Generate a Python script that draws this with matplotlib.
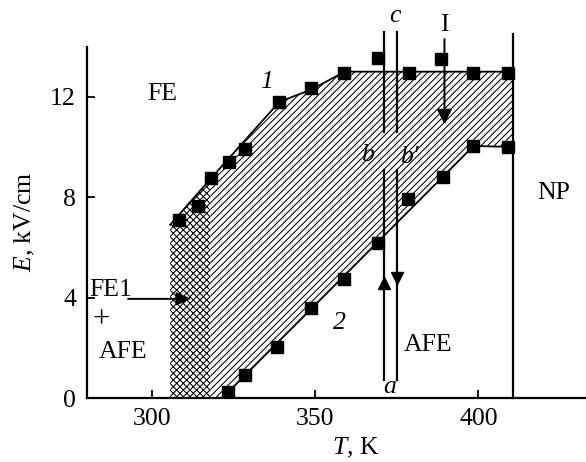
import matplotlib
matplotlib.use("Agg")
import matplotlib.pyplot as plt
from matplotlib.patches import Polygon

plt.rcParams['font.family'] = ['Liberation Serif', 'DejaVu Serif']
plt.rcParams['mathtext.fontset'] = 'custom'
plt.rcParams['mathtext.rm'] = 'Liberation Serif'
plt.rcParams['mathtext.it'] = 'Liberation Serif:italic'
plt.rcParams['hatch.linewidth'] = 0.75

# Data (T in K, E in kV/cm)
curve1_T = [308.3, 314.1, 318.1, 323.4, 328.5, 338.9, 348.8, 358.9, 369.3, 378.8, 388.6, 398.5, 409.2]
curve1_E = [7.09, 7.65, 8.77, 9.40, 9.92, 11.80, 12.35, 12.95, 13.55, 12.95, 13.50, 12.95, 12.95]
curve2_T = [323.2, 328.5, 338.3, 348.8, 358.9, 369.3, 378.5, 389.0, 398.5, 409.2]
curve2_E = [0.25, 0.92, 2.03, 3.58, 4.74, 6.17, 7.93, 8.80, 10.04, 10.00]

# boundary line vertices
line1_T = [305.5, 318.0, 339.0, 349.0, 359.0, 410.7]
line1_E = [6.90, 8.75, 11.80, 12.30, 13.00, 13.00]
line2_T = [321.5, 398.5, 410.7]
line2_E = [0.00, 10.04, 10.00]

T_np = 410.7        # NP boundary
T_fe1 = 317.8       # right edge of FE1+AFE region
T_b, T_b2 = 371.2, 375.2
T_I = 389.6

xticks = [300, 350, 400]
yticks = [0, 4, 8, 12]

fig = plt.figure(figsize=(5.86, 4.62), dpi=100)
ax = fig.add_axes([0.1485, 0.1385, 0.8515, 0.7607])
ax.set_xlim(280, 433)
ax.set_ylim(0, 14)

def interp(x, xs, ys):
    for i in range(len(xs) - 1):
        if xs[i] <= x <= xs[i + 1]:
            t = (x - xs[i]) / (xs[i + 1] - xs[i])
            return ys[i] + t * (ys[i + 1] - ys[i])
    return ys[-1]

# cross-hatched region
e_fe1 = interp(T_fe1, line1_T, line1_E)
cross = [(line1_T[0], 0), (line1_T[0], line1_E[0]), (T_fe1, e_fe1), (T_fe1, 0)]
ax.add_patch(Polygon(cross, closed=True, facecolor='white', edgecolor='black',
                     hatch='xxxxx', linewidth=0))

# diagonal hatched region
upper = [(T_fe1, e_fe1)] + [(t, e) for t, e in zip(line1_T, line1_E) if t > T_fe1]
lower = [(t, e) for t, e in zip(line2_T, line2_E)]
diag = upper + lower[::-1] + [(T_fe1, 0)]
ax.add_patch(Polygon(diag, closed=True, facecolor='white', edgecolor='black',
                     hatch='/////', linewidth=0))

ax.plot(line1_T, line1_E, color='black', lw=1.3, zorder=3)
ax.plot(line2_T, line2_E, color='black', lw=1.3, zorder=3)
ax.plot(curve1_T, curve1_E, 's', color='black', ms=8.3, zorder=4)
ax.plot(curve2_T, curve2_E, 's', color='black', ms=8.3, zorder=4)

# vertical lines
ax.plot([T_np, T_np], [0, 14.5], color='black', lw=1.6, clip_on=False, zorder=3)
for tx in (T_b, T_b2):
    ax.plot([tx, tx], [10.6, 14.6], color='black', lw=1.6, clip_on=False, zorder=5)
    ax.plot([tx, tx], [0.7, 9.1], color='black', lw=1.6, clip_on=False, zorder=5)
ax.plot([T_b], [4.6], marker='^', color='black', ms=8, zorder=6)
ax.plot([T_b2], [4.8], marker='v', color='black', ms=8, zorder=6)

# arrows
ax.annotate('', xy=(T_I, 10.9), xytext=(T_I, 14.3),
            arrowprops=dict(arrowstyle='-|>,head_length=0.5,head_width=0.25',
                            mutation_scale=18, color='black', lw=1.4,
                            shrinkA=0, shrinkB=0), annotation_clip=False, zorder=6)
ax.annotate('', xy=(312.0, 3.95), xytext=(292.6, 3.95),
            arrowprops=dict(arrowstyle='-|>,head_length=0.5,head_width=0.22',
                            mutation_scale=18, color='black', lw=1.4,
                            shrinkA=0, shrinkB=0), zorder=6)

fs = 18.5
ax.text(303, 12.1, 'FE', fontsize=fs, ha='center', va='center')
ax.text(335, 12.6, '1', fontsize=fs, style='italic', ha='center', va='center')
ax.text(357.4, 3.0, '2', fontsize=fs, style='italic', ha='center', va='center')
ax.text(374.5, 15.2, 'c', fontsize=fs, style='italic', ha='center', va='center', clip_on=False)
ax.text(389.6, 14.85, 'I', fontsize=fs, ha='center', va='center', clip_on=False)
ax.text(366.0, 9.7, 'b', fontsize=fs, style='italic', ha='center', va='center')
ax.text(378.8, 9.6, "b'", fontsize=fs, style='italic', ha='center', va='center')
ax.text(423.0, 8.15, 'NP', fontsize=fs, ha='center', va='center')
ax.text(384.7, 2.1, 'AFE', fontsize=fs, ha='center', va='center')
ax.text(372.7, 0.45, 'a', fontsize=fs, style='italic', ha='center', va='center')
ax.text(287.4, 4.3, 'FE1', fontsize=fs, ha='center', va='center')
ax.text(284.4, 3.1, '+', fontsize=22, ha='center', va='center')
ax.text(291.0, 1.83, 'AFE', fontsize=fs, ha='center', va='center')

for s in ('top', 'right'):
    ax.spines[s].set_visible(False)
for s in ('left', 'bottom'):
    ax.spines[s].set_linewidth(1.6)

ax.set_xticks(xticks)
ax.set_yticks(yticks)
ax.tick_params(direction='in', length=6, width=1.3, labelsize=fs)
ax.tick_params(axis='y', pad=8)
ax.tick_params(axis='x', pad=7)

fig.text(25 / 586, (462 - 222) / 462, '$E$, kV/cm', rotation=90, fontsize=fs,
         ha='center', va='center')
fig.text(356 / 586, (462 - 448) / 462, '$T$, K', fontsize=fs, ha='center', va='center')

fig.savefig('out.png', dpi=100)
